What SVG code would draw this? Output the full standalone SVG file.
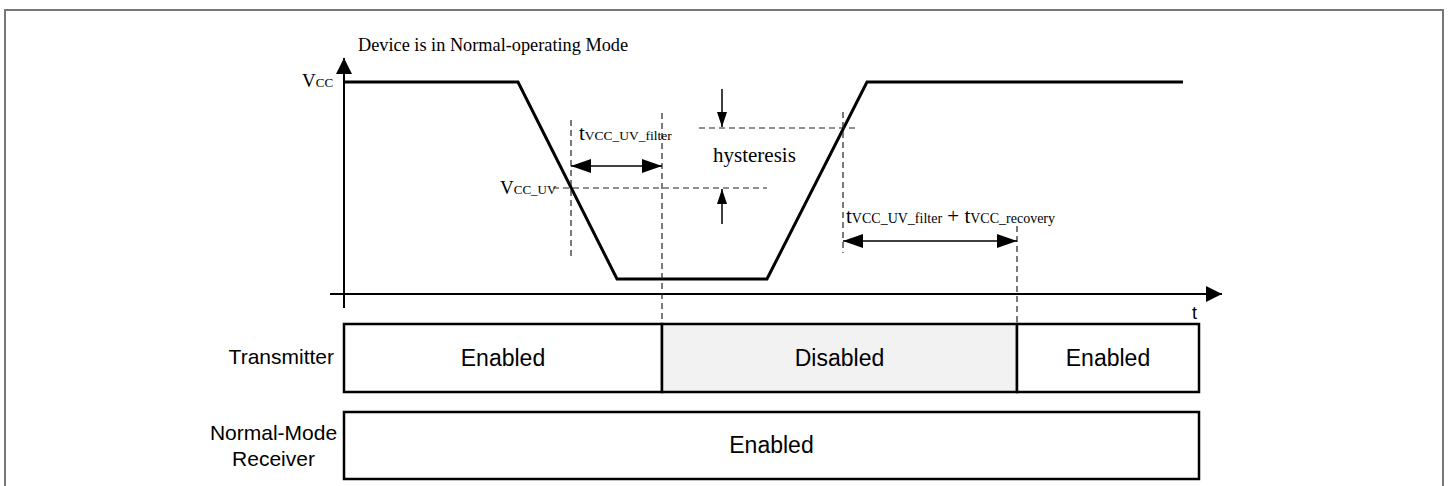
<svg xmlns="http://www.w3.org/2000/svg" width="1448" height="486" viewBox="0 0 1448 486">
<style>
.serif{font-family:"Liberation Serif","Times New Roman",serif;fill:#000}
.sans{font-family:"Liberation Sans",Arial,sans-serif;fill:#000}
.dash{stroke:#222;stroke-width:1.2;stroke-dasharray:6 4;fill:none}
.axis{stroke:#000;stroke-width:2;fill:none}
.wave{stroke:#000;stroke-width:3;fill:none;stroke-linejoin:miter}
.dim{stroke:#000;stroke-width:1.5;fill:none}
.bar{stroke:#000;stroke-width:2.5}
</style>
<defs>
<marker id="bigHead" markerUnits="userSpaceOnUse" markerWidth="20" markerHeight="14" viewBox="0 0 20 14" refX="20" refY="7" orient="auto-start-reverse">
<path d="M0,0 L20,7 L0,14 z" fill="#000"/>
</marker>
<marker id="smallHead" markerUnits="userSpaceOnUse" markerWidth="15" markerHeight="10" viewBox="0 0 15 10" refX="15" refY="5" orient="auto">
<path d="M0,0 L15,5 L0,10 z" fill="#000"/>
</marker>
<marker id="axisHead" markerUnits="userSpaceOnUse" markerWidth="16" markerHeight="16" viewBox="0 0 16 16" refX="16" refY="8" orient="auto">
<path d="M0,0 L16,8 L0,16 z" fill="#000"/>
</marker>
</defs>
<rect x="5" y="10" width="1438" height="490" fill="#fff" stroke="#777" stroke-width="2"/>

<g id="axes">
<line class="axis" x1="344" y1="308" x2="344" y2="58" marker-end="url(#axisHead)"/>
<line class="axis" x1="330" y1="294" x2="1222" y2="294" marker-end="url(#axisHead)"/>
<text class="serif" x="302" y="87" font-size="19">V<tspan font-size="13">CC</tspan></text>
<text class="sans" x="1192" y="319" font-size="18">t</text>
<text class="serif" x="358" y="51" font-size="18.3">Device is in Normal-operating Mode</text>
</g>

<g id="waveform">
<polyline class="wave" points="344,82 518,82 617,279 767,279 867,82 1183,82"/>
</g>

<g id="guides">
<line class="dash" x1="571" y1="120" x2="571" y2="260"/>
<line class="dash" x1="662" y1="113" x2="662" y2="324"/>
<line class="dash" x1="843" y1="112" x2="843" y2="253"/>
<line class="dash" x1="1017" y1="226" x2="1017" y2="324"/>
<line class="dash" x1="699" y1="128" x2="858" y2="128"/>
<line class="dash" x1="553" y1="188" x2="767" y2="188"/>
</g>

<g id="connectors">
<line class="dim" x1="571" y1="166" x2="662" y2="166" marker-start="url(#bigHead)" marker-end="url(#bigHead)"/>
<line class="dim" x1="843" y1="241" x2="1017" y2="241" marker-start="url(#bigHead)" marker-end="url(#bigHead)"/>
<line class="dim" x1="722" y1="89" x2="722" y2="127" marker-end="url(#smallHead)"/>
<line class="dim" x1="722" y1="224" x2="722" y2="189" marker-end="url(#smallHead)"/>
</g>

<g id="labels">
<text class="serif" x="579" y="140" font-size="21">t<tspan font-size="13.5">VCC_UV_filter</tspan></text>
<text class="serif" x="500" y="194" font-size="19">V<tspan font-size="13">CC_UV</tspan></text>
<text class="serif" x="713" y="162" font-size="21">hysteresis</text>
<text class="serif" x="846" y="223" font-size="21">t<tspan font-size="14">VCC_UV_filter</tspan> + t<tspan font-size="14">VCC_recovery</tspan></text>
</g>

<g id="transmitter">
<text class="sans" x="334" y="364" font-size="21" text-anchor="end">Transmitter</text>
<rect class="bar" x="344" y="324" width="318" height="68" fill="#fff"/>
<rect class="bar" x="662" y="324" width="355" height="68" fill="#f2f2f2"/>
<rect class="bar" x="1017" y="324" width="182" height="68" fill="#fff"/>
<text class="sans" x="503" y="366" font-size="23" text-anchor="middle">Enabled</text>
<text class="sans" x="839.5" y="366" font-size="23" text-anchor="middle">Disabled</text>
<text class="sans" x="1108" y="366" font-size="23" text-anchor="middle">Enabled</text>
</g>

<g id="receiver">
<text class="sans" x="273.5" y="440" font-size="21" text-anchor="middle">Normal-Mode</text>
<text class="sans" x="273.5" y="466" font-size="21" text-anchor="middle">Receiver</text>
<rect class="bar" x="344" y="412" width="855" height="67" fill="#fff"/>
<text class="sans" x="771.5" y="453" font-size="23" text-anchor="middle">Enabled</text>
</g>
</svg>
